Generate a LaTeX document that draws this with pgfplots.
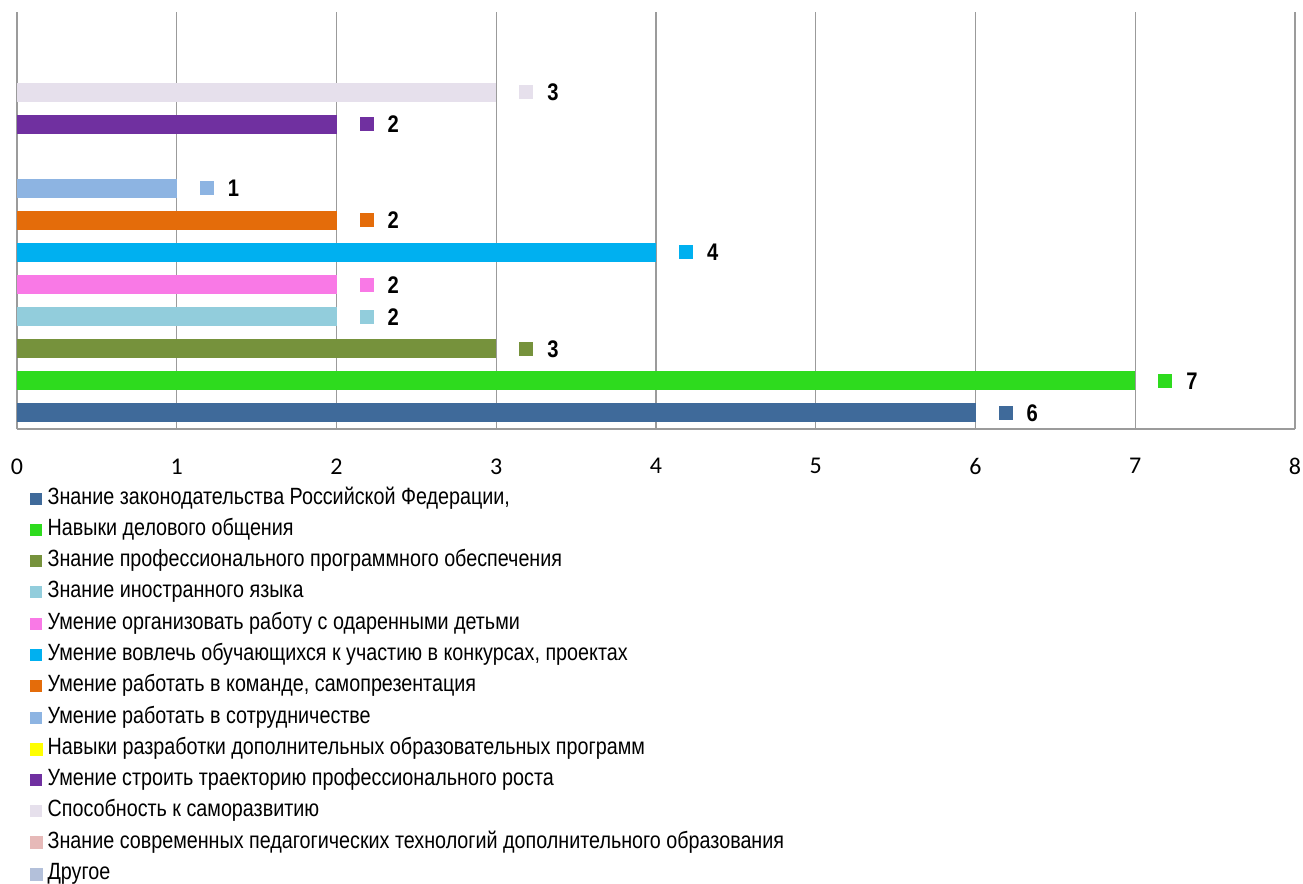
\documentclass[border=0pt]{standalone}
\usepackage{fontspec}
\setmainfont{Liberation Sans}[FakeStretch=0.84]
\newfontfamily\tickfont{Carlito}
\usepackage{pgfplots}
\pgfplotsset{compat=1.18}

\definecolor{c1}{HTML}{3F6A9A}
\definecolor{c2}{HTML}{2EDB1E}
\definecolor{c3}{HTML}{76923C}
\definecolor{c4}{HTML}{92CDDC}
\definecolor{c5}{HTML}{F979E6}
\definecolor{c6}{HTML}{00B0F0}
\definecolor{c7}{HTML}{E46C0A}
\definecolor{c8}{HTML}{8DB4E2}
\definecolor{c9}{HTML}{FFFF00}
\definecolor{c10}{HTML}{7030A0}
\definecolor{c11}{HTML}{E6E0EC}
\definecolor{c12}{HTML}{E6B9B8}
\definecolor{c13}{HTML}{B3C0DA}
\definecolor{gridc}{RGB}{155,155,155}

% data label: coloured square, then the value in bold
\newcommand\lbl[1]{\hspace{23bp}{\color{#1}\rule[1.5bp]{14bp}{14bp}}\hspace{14bp}\textbf{\pgfmathprintnumber{\pgfplotspointmeta}}}

\pgfplotsset{
  legsq/.style={legend image code/.code={\fill[#1] (0bp,-6bp) rectangle (12bp,6bp);}},
  barc/.style={xbar, fill=#1, draw=none, bar width=19bp, bar shift=0pt,
    point meta=x, nodes near coords={\lbl{#1}}, legsq=#1},
}

\begin{document}
\begin{tikzpicture}
\begin{axis}[
  scale only axis, width=1278bp, height=417bp,
  xmin=0, xmax=8, ymin=0.5, ymax=13.5,
  xtick={0,1,...,8}, ytick=\empty,
  major tick length=0pt,
  xmajorgrids, major grid style={gridc, line width=1.4bp},
  axis x line*=bottom, axis y line*=left,
  x axis line style={gridc, line width=2bp, -},
  y axis line style={gridc, line width=1.4bp, -},
  /pgf/number format/assume math mode=true,
  xticklabel style={font=\tickfont\fontsize{24bp}{28bp}\selectfont, yshift=-26bp},
  every node near coord/.append style={anchor=west, inner sep=0pt,
    font=\fontsize{24bp}{28bp}\selectfont, text=black},
  legend style={at={(0,0)}, anchor=north west, xshift=13bp, yshift=-59bp,
    draw=none, fill=none, inner sep=0pt, column sep=5bp, row sep=10.25bp,
    nodes={inner sep=0pt, text height=16bp, text depth=5bp},
    font=\fontsize{23.5bp}{27bp}\selectfont},
  legend cell align=left,
]
\addplot[barc=c1] coordinates {(6,1)};
\addlegendentry{Знание законодательства Российской Федерации,}
\addplot[barc=c2] coordinates {(7,2)};
\addlegendentry{Навыки делового общения}
\addplot[barc=c3] coordinates {(3,3)};
\addlegendentry{Знание профессионального программного обеспечения}
\addplot[barc=c4] coordinates {(2,4)};
\addlegendentry{Знание иностранного языка}
\addplot[barc=c5] coordinates {(2,5)};
\addlegendentry{Умение организовать работу с одаренными детьми}
\addplot[barc=c6] coordinates {(4,6)};
\addlegendentry{Умение вовлечь обучающихся к участию в конкурсах, проектах}
\addplot[barc=c7] coordinates {(2,7)};
\addlegendentry{Умение работать в команде, самопрезентация}
\addplot[barc=c8] coordinates {(1,8)};
\addlegendentry{Умение работать в сотрудничестве}
\addlegendimage{legsq=c9}
\addlegendentry{Навыки разработки дополнительных образовательных программ}
\addplot[barc=c10] coordinates {(2,10)};
\addlegendentry{Умение строить траекторию профессионального роста}
\addplot[barc=c11] coordinates {(3,11)};
\addlegendentry{Способность к саморазвитию}
\addlegendimage{legsq=c12}
\addlegendentry{Знание современных педагогических технологий дополнительного образования}
\addlegendimage{legsq=c13}
\addlegendentry{Другое}
\end{axis}
\pgfresetboundingbox
\path ([xshift=-17bp,yshift=-454bp]current axis.south west) rectangle ([xshift=8bp,yshift=12bp]current axis.north east);
\end{tikzpicture}
\end{document}
